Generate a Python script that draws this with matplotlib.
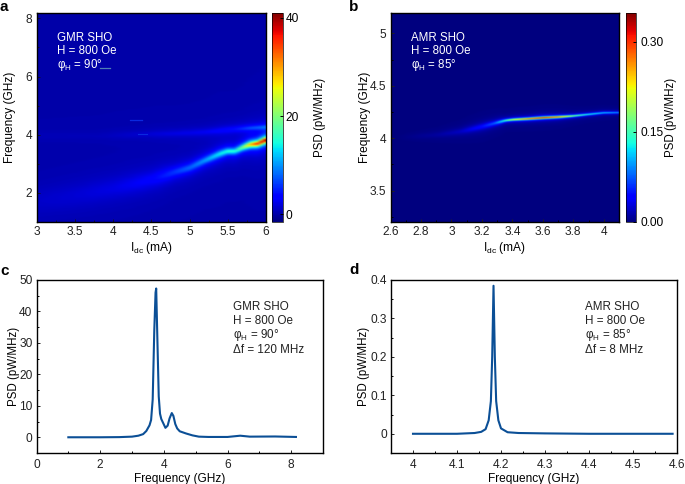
import numpy as np
import matplotlib
matplotlib.use('Agg')
import matplotlib.pyplot as plt

plt.rcParams['font.family'] = ['Liberation Sans', 'DejaVu Sans']
plt.rcParams['font.size'] = 8.6
plt.rcParams['mathtext.fontset'] = 'custom'
plt.rcParams['mathtext.rm'] = 'Liberation Sans'
plt.rcParams['axes.linewidth'] = 1.0

# panel a ridges
a_cur = [3, 3.5, 4, 4.5, 4.8, 5, 5.2, 5.4, 5.5, 5.6, 5.7, 5.8, 5.9, 6]
a_freq = [1.7, 1.9, 2.15, 2.45, 2.7, 2.85, 3.1, 3.33, 3.42, 3.42, 3.55, 3.65, 3.68, 3.8]
a_amp = [1.2, 1.6, 2.2, 3.5, 6, 8, 10.5, 14, 15, 15, 20, 28, 36, 40]
a_wid = [0.5, 0.45, 0.38, 0.28, 0.18, 0.15, 0.13, 0.12, 0.11, 0.11, 0.1, 0.1, 0.095, 0.095]
a2_cur = [3.8, 4.3, 4.8, 5.2, 5.6, 5.8, 6]
a2_freq = [3.95, 4.0, 4.03, 4.08, 4.18, 4.22, 4.25]
a2_amp = [0.5, 1.2, 2, 2.5, 4, 6, 7]
a2_wid = [0.15, 0.12, 0.12, 0.12, 0.11, 0.09, 0.09]

# panel b ridge
b_cur = [2.6, 2.9, 3.05, 3.2, 3.28, 3.35, 3.4, 3.5, 3.6, 3.7, 3.8, 3.9, 4.0, 4.1]
b_freq = [4.0, 4.03, 4.06, 4.11, 4.14, 4.167, 4.175, 4.183, 4.193, 4.2, 4.21, 4.225, 4.24, 4.242]
b_amp = [0.0, 0.01, 0.02, 0.05, 0.08, 0.16, 0.22, 0.3, 0.34, 0.3, 0.19, 0.14, 0.12, 0.1]
b_wid = [0.03, 0.03, 0.03, 0.025, 0.018, 0.01, 0.009, 0.008, 0.008, 0.008, 0.008, 0.008, 0.008, 0.008]

# panel c spectrum
c_f = [1.0, 2.0, 2.6, 3.0, 3.2, 3.35, 3.45, 3.55, 3.6, 3.65, 3.7, 3.74, 3.76, 3.8, 3.84, 3.88, 3.92, 4.05, 4.12, 4.18, 4.25, 4.3, 4.36, 4.42, 4.5, 4.7, 4.9, 5.1, 5.4, 6.0, 6.4, 6.7, 7.5, 8.15]
c_psd = [0, 0, 0.05, 0.2, 0.5, 1.0, 2.0, 3.8, 5.5, 12, 34, 46, 47.3, 30, 13, 7.5, 5.8, 3, 3.7, 6, 7.7, 6.8, 4.2, 2.8, 1.9, 1.2, 0.6, 0.2, 0.1, 0.1, 0.5, 0.2, 0.25, 0.1]

# panel d spectrum
d_f = [4.0, 4.1, 4.14, 4.155, 4.165, 4.172, 4.177, 4.18, 4.183, 4.186, 4.189, 4.194, 4.2, 4.215, 4.24, 4.3, 4.4, 4.59]
d_psd = [0, 0, 0.002, 0.005, 0.012, 0.035, 0.085, 0.2, 0.385, 0.2, 0.085, 0.035, 0.014, 0.004, 0.002, 0.001, 0, 0]

a_lines = ['GMR SHO', 'H = 800 Oe', r'φ$_{\mathrm{H}}$ = 90°']
b_lines = ['AMR SHO', 'H = 800 Oe', r'φ$_{\mathrm{H}}$ = 85°']
c_lines = a_lines + ['Δf = 120 MHz']
d_lines = b_lines + ['Δf = 8 MHz']

W, H = 685.0, 484.0
line_col = '#0b4f96'


def make_axes(fig, x0, x1, y0, y1):
    return fig.add_axes([x0 / W, 1 - y1 / H, (x1 - x0) / W, (y1 - y0) / H])


def ridge_map(x, y, ridges):
    # Lorentzian column through each ridge read above
    z = np.zeros((len(y), len(x)))
    for cur, freq, amp, wid in ridges:
        f0 = np.interp(x, cur, freq)
        a0 = np.interp(x, cur, amp)
        w0 = np.interp(x, cur, wid)
        z += a0[None, :] / (1 + ((y[:, None] - f0[None, :]) / w0[None, :]) ** 2)
    return z


def style_ticks(ax, xmaj, xmin, ymaj, ymin):
    ax.set_xticks(xmaj)
    ax.set_xticks(xmin, minor=True)
    ax.set_yticks(ymaj)
    ax.set_yticks(ymin, minor=True)
    ax.tick_params(which='major', direction='in', length=2.5, width=0.7, pad=3, colors='#222222')
    ax.tick_params(which='minor', direction='in', length=1.5, width=0.7)


def add_lines(ax, x, y, lines, col, step=13.3, size=8.3):
    fig = ax.figure
    for i, s in enumerate(lines):
        fig.text(x / W, 1 - (y + i * step) / H, s, color=col, va='center', ha='left', fontsize=size)


fig = plt.figure(figsize=(6.85, 4.84), dpi=100)

# a
ax = make_axes(fig, 36.5, 266, 12.5, 222)
xa = np.linspace(3, 6, 61)
ya = np.linspace(1, 8.2, 240)
za = ridge_map(xa, ya, [(a_cur, a_freq, a_amp, a_wid), (a2_cur, a2_freq, a2_amp, a2_wid)])
im = ax.imshow(za, cmap='jet', vmin=-1.6, vmax=41.1, origin='lower', extent=[3, 6, 1, 8.2],
               aspect='auto', interpolation='bicubic')
ax.plot([3.83, 3.96], [6.28, 6.28], color='#4f7fb5', lw=0.9)
ax.plot([4.22, 4.38], [4.5, 4.5], color='#0a28e0', lw=0.9)
ax.plot([4.33, 4.45], [4.02, 4.02], color='#0a28e0', lw=0.8)
style_ticks(ax, [3, 3.5, 4, 4.5, 5, 5.5, 6], np.arange(3, 6.01, 0.25), [2, 4, 6, 8], [3, 5, 7])
ax.set_xticklabels(['3', '3.5', '4', '4.5', '5', '5.5', '6'])
ax.set_xlabel(r'I$_{\mathrm{dc}}$ (mA)', labelpad=1)
ax.set_ylabel('Frequency (GHz)', labelpad=7.3)
ax.tick_params(which='both', color='#111133')
cax = make_axes(fig, 272, 283, 12.5, 222)
cb = fig.colorbar(im, cax=cax)
cb.set_ticks([0, 20, 40])
cb.ax.tick_params(direction='in', length=2.5, width=0.7, pad=2)
cb.outline.set_linewidth(0.5)
cb.set_label('PSD (pW/MHz)', labelpad=11, fontsize=8.3)
add_lines(ax, 57, 38, a_lines, 'white')

# b
ax = make_axes(fig, 390.5, 619, 12.5, 222)
xb = np.linspace(2.6, 4.1, 76)
yb = np.linspace(3.2, 5.2, 500)
zb = ridge_map(xb, yb, [(b_cur, b_freq, b_amp, b_wid)])
im = ax.imshow(zb, cmap='jet', vmin=0, vmax=0.349, origin='lower', extent=[2.6, 4.1, 3.2, 5.2],
               aspect='auto', interpolation='bicubic')
style_ticks(ax, [2.6, 2.8, 3, 3.2, 3.4, 3.6, 3.8, 4], np.arange(2.6, 4.11, 0.1), [3.5, 4, 4.5, 5], [3.25, 3.75, 4.25, 4.75])
ax.set_xticklabels(['2.6', '2.8', '3', '3.2', '3.4', '3.6', '3.8', '4'])
ax.set_yticklabels(['3.5', '4', '4.5', '5'])
ax.set_xlabel(r'I$_{\mathrm{dc}}$ (mA)', labelpad=1)
ax.set_ylabel('Frequency (GHz)', labelpad=-0.5)
cax = make_axes(fig, 626, 636, 12.5, 222)
cb = fig.colorbar(im, cax=cax)
cb.set_ticks([0, 0.15, 0.30])
cb.set_ticklabels(['0.00', '0.15', '0.30'])
cb.ax.tick_params(direction='in', length=2.5, width=0.7, pad=3)
cb.outline.set_linewidth(0.5)
cb.set_label('PSD (pW/MHz)', labelpad=1.5, fontsize=8.3)
add_lines(ax, 411, 38, b_lines, 'white')

# c
ax = make_axes(fig, 36.5, 323, 280, 453)
ax.plot(c_f, c_psd, color=line_col, lw=1.5)
ax.set_xlim(0, 9)
ax.set_ylim(-5, 50)
style_ticks(ax, [0, 2, 4, 6, 8], [1, 3, 5, 7, 9], np.arange(0, 51, 10), np.arange(5, 46, 10))
ax.tick_params(axis='x', which='major', pad=4)
ax.set_xlabel('Frequency (GHz)', labelpad=2)
ax.set_ylabel('PSD (pW/MHz)', labelpad=-1, fontsize=8.3)
add_lines(ax, 233, 307, c_lines, '#222222', step=14.2, size=8.4)

# d
ax = make_axes(fig, 391, 677, 280, 453)
ax.plot(d_f, d_psd, color=line_col, lw=1.5)
ax.set_xlim(3.95, 4.6)
ax.set_ylim(-0.05, 0.4)
style_ticks(ax, np.arange(4, 4.61, 0.1), np.arange(4.05, 4.6, 0.1), np.arange(0, 0.41, 0.1), np.arange(0.05, 0.4, 0.1))
ax.tick_params(axis='x', which='major', pad=4)
ax.set_xticklabels(['4', '4.1', '4.2', '4.3', '4.4', '4.5', '4.6'])
ax.set_yticklabels(['0', '0.1', '0.2', '0.3', '0.4'])
ax.set_xlabel('Frequency (GHz)', labelpad=2)
ax.set_ylabel('PSD (pW/MHz)', labelpad=0.5, fontsize=8.3)
add_lines(ax, 585, 307, d_lines, '#222222', step=14.2, size=8.4)

# panel letters
for s, x, y in [('a', 0, 7), ('b', 349, 7), ('c', 0, 271), ('d', 349, 270)]:
    fig.text(x / W, 1 - y / H, s, fontsize=11, fontweight='bold', va='center', ha='left')

fig.savefig('out.png', dpi=100)
plt.close('all')
